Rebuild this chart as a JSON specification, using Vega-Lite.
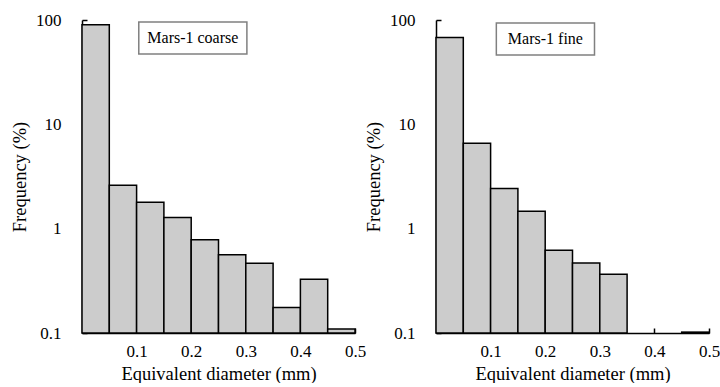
{
  "$schema": "https://vega.github.io/schema/vega-lite/v6.json",
  "background": "white",
  "padding": {"left": 10, "top": 11, "right": 0, "bottom": 0},
  "spacing": 81,
  "bounds": "flush",
  "datasets": {
    "coarse": [
      {"lo": 0.00, "hi": 0.05, "freq": 90},
      {"lo": 0.05, "hi": 0.10, "freq": 2.6},
      {"lo": 0.10, "hi": 0.15, "freq": 1.79},
      {"lo": 0.15, "hi": 0.20, "freq": 1.28},
      {"lo": 0.20, "hi": 0.25, "freq": 0.785},
      {"lo": 0.25, "hi": 0.30, "freq": 0.563},
      {"lo": 0.30, "hi": 0.35, "freq": 0.466},
      {"lo": 0.35, "hi": 0.40, "freq": 0.176},
      {"lo": 0.40, "hi": 0.45, "freq": 0.327},
      {"lo": 0.45, "hi": 0.50, "freq": 0.109}
    ],
    "fine": [
      {"lo": 0.00, "hi": 0.05, "freq": 68},
      {"lo": 0.05, "hi": 0.10, "freq": 6.6},
      {"lo": 0.10, "hi": 0.15, "freq": 2.43},
      {"lo": 0.15, "hi": 0.20, "freq": 1.47},
      {"lo": 0.20, "hi": 0.25, "freq": 0.62},
      {"lo": 0.25, "hi": 0.30, "freq": 0.47},
      {"lo": 0.30, "hi": 0.35, "freq": 0.365},
      {"lo": 0.45, "hi": 0.50, "freq": 0.102}
    ],
    "labels": [
      {"sample": "Mars-1 coarse"},
      {"sample": "Mars-1 fine"}
    ]
  },
  "config": {
    "font": "Liberation Serif, serif",
    "view": {"stroke": null},
    "axis": {
      "grid": false,
      "labelFlush": false,
      "domainColor": "#000000",
      "domainWidth": 1.5,
      "tickColor": "#000000",
      "tickWidth": 1.5,
      "tickSize": -5,
      "labelFont": "Liberation Serif, serif",
      "labelFontSize": 17,
      "labelColor": "#000000",
      "titleFont": "Liberation Serif, serif",
      "titleFontSize": 18.5,
      "titleFontWeight": "normal",
      "titleColor": "#000000"
    }
  },
  "hconcat": [
    {
      "width": 273,
      "height": 313,
      "layer": [
        {
          "data": {"name": "coarse"},
          "mark": {"type": "bar", "fill": "#cccccc", "stroke": "#000000", "strokeWidth": 1.5},
          "encoding": {
            "x": {"field": "lo", "type": "quantitative",
                  "scale": {"domain": [0, 0.5], "nice": false},
                  "axis": {"values": [0.1, 0.2, 0.3, 0.4, 0.5], "title": "Equivalent diameter (mm)", "labelPadding": 15, "titlePadding": 5}},
            "x2": {"field": "hi"},
            "y": {"field": "freq", "type": "quantitative",
                  "scale": {"type": "log", "domain": [0.1, 100], "nice": false},
                  "axis": {"values": [0.1, 1, 10, 100], "format": "~g", "title": "Frequency (%)", "labelPadding": 26, "titlePadding": 6}},
            "y2": {"datum": 0.1}
          }
        },
        {
          "data": {"name": "labels"},
          "transform": [{"filter": "datum.sample === 'Mars-1 coarse'"}],
          "layer": [
            {
              "mark": {"type": "rect", "fill": "white", "stroke": "#808080", "strokeWidth": 1.5},
              "encoding": {
                "x": {"datum": 0.104},
                "x2": {"datum": 0.302},
                "y": {"datum": 95.9},
                "y2": {"datum": 47.3}
              }
            },
            {
              "mark": {"type": "text", "fontSize": 16, "font": "Liberation Serif, serif", "fill": "#000000", "baseline": "middle", "align": "center"},
              "encoding": {
                "text": {"field": "sample"},
                "x": {"datum": 0.203},
                "y": {"datum": 67.3}
              }
            }
          ]
        }
      ]
    },
    {
      "width": 273,
      "height": 313,
      "layer": [
        {
          "data": {"name": "fine"},
          "mark": {"type": "bar", "fill": "#cccccc", "stroke": "#000000", "strokeWidth": 1.5},
          "encoding": {
            "x": {"field": "lo", "type": "quantitative",
                  "scale": {"domain": [0, 0.5], "nice": false},
                  "axis": {"values": [0.1, 0.2, 0.3, 0.4, 0.5], "title": "Equivalent diameter (mm)", "labelPadding": 15, "titlePadding": 5}},
            "x2": {"field": "hi"},
            "y": {"field": "freq", "type": "quantitative",
                  "scale": {"type": "log", "domain": [0.1, 100], "nice": false},
                  "axis": {"values": [0.1, 1, 10, 100], "format": "~g", "title": "Frequency (%)", "labelPadding": 26, "titlePadding": 6}},
            "y2": {"datum": 0.1}
          }
        },
        {
          "data": {"name": "labels"},
          "transform": [{"filter": "datum.sample === 'Mars-1 fine'"}],
          "layer": [
            {
              "mark": {"type": "rect", "fill": "white", "stroke": "#808080", "strokeWidth": 1.5},
              "encoding": {
                "x": {"datum": 0.1105},
                "x2": {"datum": 0.2903},
                "y": {"datum": 93.5},
                "y2": {"datum": 46.1}
              }
            },
            {
              "mark": {"type": "text", "fontSize": 16, "font": "Liberation Serif, serif", "fill": "#000000", "baseline": "middle", "align": "center"},
              "encoding": {
                "text": {"field": "sample"},
                "x": {"datum": 0.2004},
                "y": {"datum": 65.6}
              }
            }
          ]
        }
      ]
    }
  ]
}
